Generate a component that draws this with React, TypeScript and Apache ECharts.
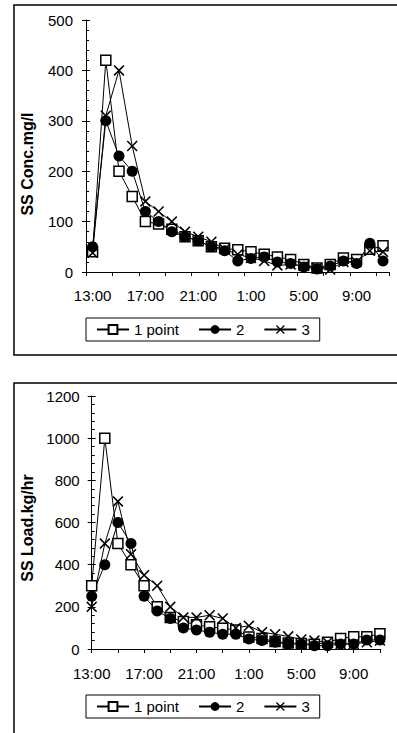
import React, { useEffect, useRef } from 'react';
import * as echarts from 'echarts';

const hours = ['13:00', '14:00', '15:00', '16:00', '17:00', '18:00', '19:00', '20:00', '21:00', '22:00', '23:00', '0:00', '1:00', '2:00', '3:00', '4:00', '5:00', '6:00', '7:00', '8:00', '9:00', '10:00', '11:00'];
const seriesNames = ['1 point', '2', '3'];

const concPoint1 = [40, 420, 200, 150, 100, 95, 85, 70, 62, 50, 47, 44, 40, 35, 30, 25, 15, 8, 15, 28, 25, 45, 52];
const concPoint2 = [50, 300, 230, 200, 120, 100, 80, 70, 62, 50, 42, 22, 27, 30, 20, 17, 10, 6, 12, 22, 17, 57, 22];
const concPoint3 = [38, 310, 400, 250, 140, 120, 100, 80, 70, 60, 45, 35, 28, 22, 13, 15, 12, 8, 5, 20, 20, 42, 40];

const loadPoint1 = [300, 1000, 500, 400, 300, 200, 150, 130, 115, 105, 98, 90, 57, 50, 35, 28, 26, 22, 32, 50, 58, 58, 72];
const loadPoint2 = [250, 400, 600, 500, 250, 180, 145, 100, 90, 80, 70, 70, 47, 40, 32, 24, 24, 16, 16, 24, 24, 43, 43];
const loadPoint3 = [200, 500, 700, 450, 350, 300, 200, 150, 150, 160, 145, 100, 110, 80, 70, 60, 45, 40, 32, 24, 24, 32, 40];

const FONT = '"Liberation Sans", Arial, sans-serif';
const X_SYMBOL = 'path://M0,1 L1,0 L5,4 L9,0 L10,1 L6,5 L10,9 L9,10 L5,6 L1,10 L0,9 L4,5 Z';

function mkSeries(name: string, data: number[], xAxisIndex: number, yAxisIndex: number, kind: number) {
  const base: any = {
    type: 'line',
    name,
    data,
    xAxisIndex,
    yAxisIndex,
    showAllSymbol: true,
    lineStyle: { color: '#000', width: 1 },
    emphasis: { disabled: true },
  };
  if (kind === 0) {
    base.symbol = 'rect';
    base.symbolSize = 10;
    base.itemStyle = { color: '#fff', borderColor: '#000', borderWidth: 1.5 };
  } else if (kind === 1) {
    base.symbol = 'circle';
    base.symbolSize = 11;
    base.itemStyle = { color: '#000', borderColor: '#000', borderWidth: 0 };
  } else {
    base.symbol = X_SYMBOL;
    base.symbolSize = 11;
    base.itemStyle = { color: '#000', borderColor: '#000', borderWidth: 0 };
  }
  return base;
}

function xAxisDef(gridIndex: number, boundaryGap: boolean, margin: number) {
  return {
    type: 'category',
    gridIndex,
    data: hours,
    boundaryGap,
    axisLine: { lineStyle: { color: '#000', width: 1 } },
    axisTick: { show: true, interval: 1, length: 4, lineStyle: { color: '#000' } },
    axisLabel: { interval: 3, color: '#000', fontSize: 15, fontFamily: FONT, margin },
    splitLine: { show: false },
  };
}

function yAxesDef(gridIndex: number, max: number, interval: number, margin: number) {
  return [
    {
      type: 'value',
      gridIndex,
      min: 0,
      max,
      interval,
      axisLine: { show: true, lineStyle: { color: '#000', width: 1 } },
      axisTick: { show: true, length: 4, lineStyle: { color: '#000' } },
      axisLabel: { color: '#000', fontSize: 15, fontFamily: FONT, margin, formatter: (v: number) => String(v) },
      splitLine: { show: false },
    },
    {
      type: 'value',
      gridIndex,
      min: 0,
      max,
      interval,
      position: 'left',
      axisLine: { show: false },
      axisTick: { show: true, inside: true, length: 4, lineStyle: { color: '#000' } },
      minorTick: { show: true, splitNumber: 5, length: 3, lineStyle: { color: '#000' } },
      axisLabel: { show: false },
      splitLine: { show: false },
    },
  ];
}

function legendDef(top: number) {
  return {
    left: 86,
    top,
    orient: 'horizontal',
    data: seriesNames,
    itemWidth: 32,
    itemHeight: 11,
    itemGap: 19,
    padding: [4, 10, 4, 10],
    borderColor: '#000',
    borderWidth: 1,
    selectedMode: false,
    textStyle: { color: '#000', fontSize: 15, fontFamily: FONT },
  };
}

export default function App() {
  const ref = useRef<HTMLDivElement>(null);
  useEffect(() => {
    document.body.style.margin = '0';
    const chart = echarts.init(ref.current!, null, { renderer: 'svg' });
    const option: any = {
      animation: false,
      backgroundColor: '#fff',
      grid: [
        { left: 86, top: 20, width: 303.6, height: 252 },
        { left: 91.7, top: 396, width: 288.2, height: 253 },
      ],
      xAxis: [xAxisDef(0, true, 16), xAxisDef(1, false, 17)],
      yAxis: [...yAxesDef(0, 500, 100, 13), ...yAxesDef(1, 1200, 200, 12)],
      legend: [legendDef(318), legendDef(695)],
      series: [
        mkSeries(seriesNames[0], concPoint1, 0, 0, 0),
        mkSeries(seriesNames[1], concPoint2, 0, 0, 1),
        mkSeries(seriesNames[2], concPoint3, 0, 0, 2),
        mkSeries(seriesNames[0], loadPoint1, 1, 2, 0),
        mkSeries(seriesNames[1], loadPoint2, 1, 2, 1),
        mkSeries(seriesNames[2], loadPoint3, 1, 2, 2),
      ],
      graphic: [
        {
          type: 'rect',
          shape: { x: 14, y: 5, width: 400, height: 350 },
          style: { fill: 'none', stroke: '#000', lineWidth: 1.5 },
          silent: true,
        },
        {
          type: 'rect',
          shape: { x: 14, y: 383, width: 400, height: 380 },
          style: { fill: 'none', stroke: '#000', lineWidth: 1.5 },
          silent: true,
        },
        {
          type: 'text',
          x: 27,
          y: 164,
          rotation: Math.PI / 2,
          style: {
            text: 'SS Conc.mg/l',
            fill: '#000',
            font: 'bold 16px ' + FONT,
            textAlign: 'center',
            textVerticalAlign: 'middle',
          },
        },
        {
          type: 'text',
          x: 27,
          y: 528,
          rotation: Math.PI / 2,
          style: {
            text: 'SS Load.kg/hr',
            fill: '#000',
            font: 'bold 16px ' + FONT,
            textAlign: 'center',
            textVerticalAlign: 'middle',
          },
        },
      ],
    };
    chart.setOption(option);
    return () => chart.dispose();
  }, []);
  return <div ref={ref} style={{ width: 397, height: 733 }} />;
}
